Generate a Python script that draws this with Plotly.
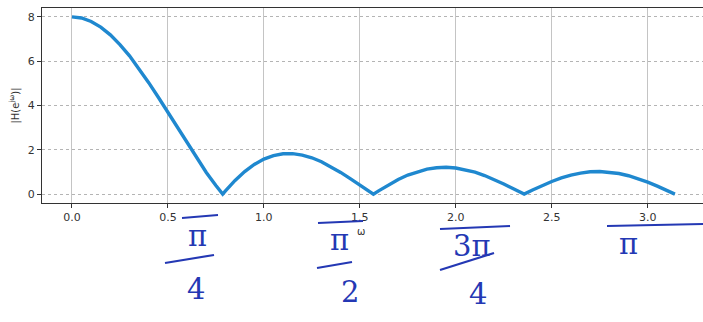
import plotly.graph_objects as go

# frequency samples (rad/sample) and magnitude
omega = [0.0, 0.05, 0.10, 0.15, 0.20, 0.25, 0.30, 0.35, 0.40, 0.45, 0.50, 0.55, 0.60, 0.65, 0.70, 0.75,
         0.7854, 0.80, 0.85, 0.90, 0.95, 1.00, 1.05, 1.10, 1.15, 1.20, 1.25, 1.30, 1.35, 1.40, 1.45, 1.50, 1.55,
         1.5708, 1.60, 1.65, 1.70, 1.75, 1.80, 1.85, 1.90, 1.95, 2.00, 2.05, 2.10, 2.15, 2.20, 2.25, 2.30, 2.35,
         2.3562, 2.40, 2.45, 2.50, 2.55, 2.60, 2.65, 2.70, 2.75, 2.80, 2.85, 2.90, 2.95, 3.00, 3.05, 3.10, 3.1416]
magnitude = [8.0, 7.95, 7.79, 7.54, 7.19, 6.75, 6.24, 5.66, 5.03, 4.37, 3.68, 2.98, 2.29, 1.61, 0.98, 0.39,
             0.0, 0.15, 0.62, 1.02, 1.34, 1.58, 1.74, 1.82, 1.83, 1.76, 1.64, 1.46, 1.24, 0.98, 0.70, 0.41, 0.12,
             0.0, 0.16, 0.42, 0.66, 0.86, 1.01, 1.13, 1.19, 1.21, 1.18, 1.10, 0.99, 0.84, 0.66, 0.46, 0.24, 0.03,
             0.0, 0.19, 0.39, 0.57, 0.73, 0.86, 0.95, 1.01, 1.02, 0.99, 0.93, 0.83, 0.70, 0.54, 0.36, 0.17, 0.0]

x_ticks = [0.0, 0.5, 1.0, 1.5, 2.0, 2.5, 3.0]
x_tick_text = ["0.0", "0.5", "1.0", "1.5", "2.0", "2.5", "3.0"]
y_ticks = [0, 2, 4, 6, 8]

W, H = 703, 322
L, R, T, B = 42, 0, 8, 119
PW, PH = W - L - R, H - T - B

def px(x):
    return (x - L) / PW

def py(y):
    return (T + PH - y) / PH

fig = go.Figure()
fig.add_trace(go.Scatter(x=omega, y=magnitude, mode="lines",
                         line=dict(color="#1f88cf", width=3.4), hoverinfo="skip"))

ink = "#2438b4"
hand_font = dict(family="DejaVu Serif", size=29, color=ink)
annotations = [
    dict(text="ω", x=px(361), y=py(231), font=dict(family="DejaVu Sans", size=10, color="#333")),
    dict(text="π", x=px(197), y=py(236), font=hand_font),
    dict(text="4", x=px(196), y=py(289), font=hand_font),
    dict(text="π", x=px(339), y=py(240), font=hand_font),
    dict(text="2", x=px(350), y=py(292), font=hand_font),
    dict(text="3π", x=px(472), y=py(246), font=hand_font),
    dict(text="4", x=px(478), y=py(294), font=hand_font),
    dict(text="π", x=px(628), y=py(244), font=hand_font),
]
for a in annotations:
    a.update(xref="paper", yref="paper", showarrow=False, xanchor="center", yanchor="middle")

shapes = []
for (x0, y0, x1, y1) in [(165, 263, 214, 255), (317, 268, 352, 262), (440, 270, 494, 253),
                         (182, 218, 218, 215), (318, 223, 363, 221), (440, 229, 510, 226), (607, 226, 703, 224)]:
    shapes.append(dict(type="line", xref="paper", yref="paper", x0=px(x0), y0=py(y0), x1=px(x1), y1=py(y1),
                       line=dict(color=ink, width=2.2)))

fig.update_layout(
    width=W, height=H,
    margin=dict(l=L, r=R, t=T, b=B, pad=0, autoexpand=False),
    paper_bgcolor="white", plot_bgcolor="white",
    showlegend=False,
    annotations=annotations,
    shapes=shapes,
    xaxis=dict(range=[-0.156, 3.288], tickvals=x_ticks, ticktext=x_tick_text, automargin=False,
               showgrid=True, gridcolor="#c4c4c4", gridwidth=1,
               showline=True, linecolor="#333", linewidth=1.2, mirror=True,
               ticks="outside", ticklen=4, tickcolor="#333",
               tickfont=dict(family="DejaVu Sans", size=11, color="#333"), zeroline=False),
    yaxis=dict(range=[-0.4, 8.4], tickvals=y_ticks, automargin=False,
               showgrid=True, gridcolor="#b4b4b4", gridwidth=1, griddash="dot",
               showline=True, linecolor="#333", linewidth=1.2,
               ticks="outside", ticklen=4, tickcolor="#333",
               tickfont=dict(family="DejaVu Sans", size=11, color="#333"), zeroline=False,
               title=dict(text="|H(e<sup>jω</sup>)|", standoff=6,
                          font=dict(family="DejaVu Sans", size=10, color="#333"))),
)

fig.write_html("out.html", config={"displayModeBar": False},
               post_script="document.body.style.margin='0';document.body.style.overflow='hidden';")
